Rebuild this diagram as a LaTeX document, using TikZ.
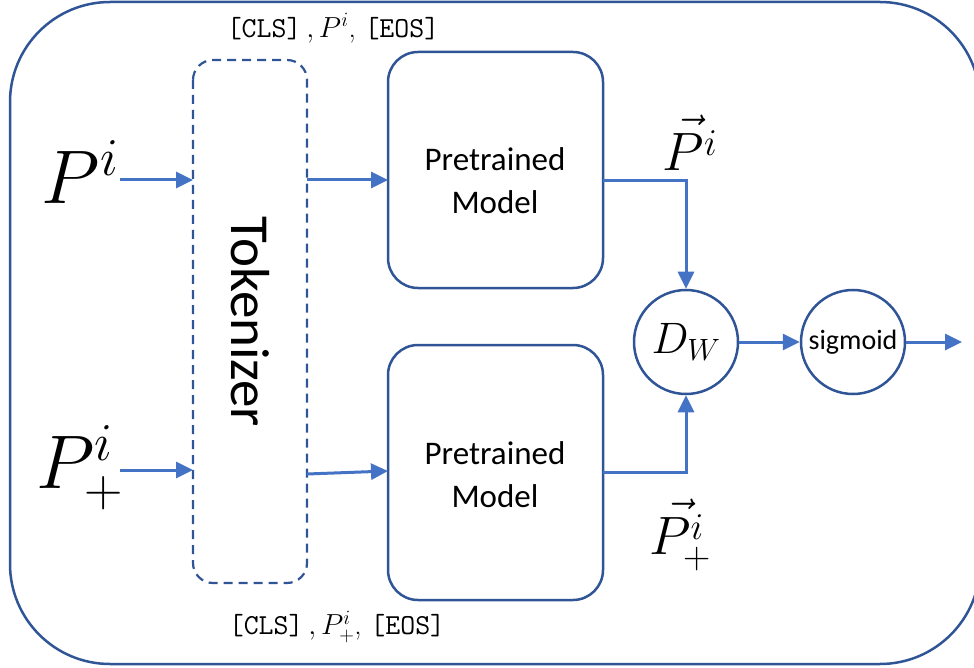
\RequirePackage{fix-cm}
\documentclass[tikz,border=0pt]{standalone}
\usepackage{fontspec}
\setsansfont{Carlito}
\usetikzlibrary{arrows.meta}
\definecolor{edgeblue}{HTML}{2F5597}
\definecolor{arrowblue}{HTML}{4472C4}
\tikzset{
  frame/.style={draw=edgeblue, line width=2.5pt, rounded corners=100pt},
  tokbox/.style={draw=edgeblue, line width=2.2pt, dashed, dash pattern=on 9pt off 6pt, rounded corners=20pt},
  modelbox/.style={draw=edgeblue, line width=2.5pt, rounded corners=30pt},
  opnode/.style={draw=edgeblue, line width=2.5pt, circle, minimum size=104pt, inner sep=0pt},
  flow/.style={draw=arrowblue, line width=3pt, -{Triangle[length=17pt,width=16pt]}},
  modeltext/.style={font=\sffamily\fontsize{33}{43}\selectfont, align=center, text=black},
  tag/.style={font=\fontsize{29}{32}\selectfont, text=black}
}
\begin{document}
\begin{tikzpicture}[x=1pt, y=-1pt]
  \useasboundingbox (0,0) rectangle (974,668);
  \clip (0,0) rectangle (974,668);
  % outer container
  \draw[frame] (10,2) rectangle (980,664);

  % tokenizer and the two encoders
  \draw[tokbox] (193,60) rectangle (307,583);
  \node[rotate=-90, font=\sffamily\fontsize{55}{60}\selectfont] (tok) at (250,322) {Tokenizer};
  \coordinate (tokTL) at (193,180);
  \coordinate (tokBL) at (193,470);
  \coordinate (tokTR) at (307,180);
  \coordinate (tokBR) at (307,474);

  \draw[modelbox] (388,52) rectangle (603,288);
  \node[modeltext] (m1) at (495,181) {Pretrained\\Model};
  \coordinate (m1L) at (388,180);
  \coordinate (m1R) at (603,181);

  \draw[modelbox] (388,345) rectangle (603,600);
  \node[modeltext] (m2) at (495,475) {Pretrained\\Model};
  \coordinate (m2L) at (388,471);
  \coordinate (m2R) at (603,472);

  % distance and sigmoid
  \node[opnode] (dw) at (686,342) {\fontsize{44}{48}\selectfont $D_W$};
  \node[opnode] (sig) at (853,342) {\sffamily\fontsize{28}{32}\selectfont sigmoid};
  \coordinate (out) at (962,342);

  % inputs
  \node[font=\fontsize{76}{80}\selectfont] (pin) at (80,172) {$P^i$};
  \node[font=\fontsize{76}{80}\selectfont] (pplus) at (80,468) {$P^i_+$};
  \coordinate (pinR) at (120,180);
  \coordinate (pplusR) at (120,470);

  % token sequence labels
  \node[tag] (t1) at (333,28) {\texttt{[CLS]}$\,,P^i$, \texttt{[EOS]}};
  \node[tag] (t2) at (337,627) {\texttt{[CLS]}$\,,P^i_+$, \texttt{[EOS]}};

  % embedding labels
  \node[font=\fontsize{54}{58}\selectfont] (e1) at (690,143) {$\vec{P^i}$};
  \node[font=\fontsize{54}{58}\selectfont] (e2) at (680,535) {$\vec{P^i_+}$};

  % connectors
  \draw[flow] (pinR) -- (tokTL);
  \draw[flow] (pplusR) -- (tokBL);
  \draw[flow] (tokTR) -- (m1L);
  \draw[flow] (tokBR) -- (m2L);
  \draw[flow] (m1R) -| (dw.north);
  \draw[flow] (m2R) -| (dw.south);
  \draw[flow] (dw.east) -- (sig.west);
  \draw[flow] (sig.east) -- (out);
\end{tikzpicture}
\end{document}
